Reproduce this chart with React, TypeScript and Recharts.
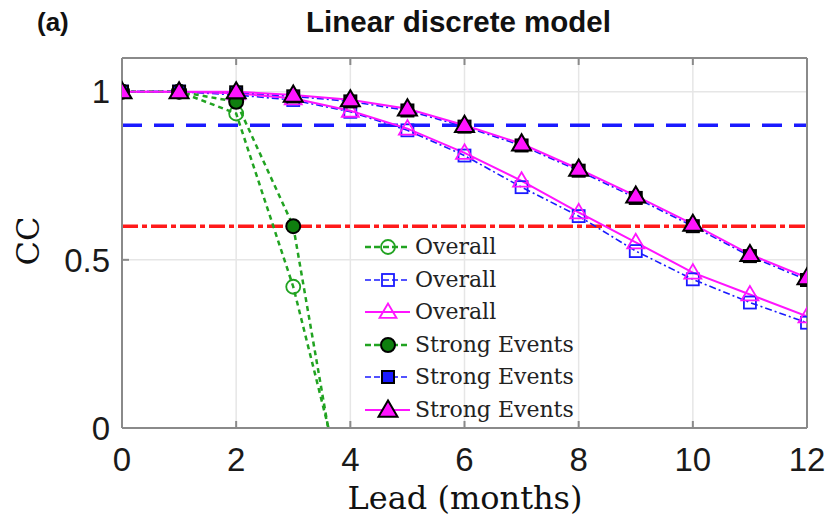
import React from 'react';
import { LineChart, Line, XAxis, YAxis, CartesianGrid, ReferenceLine, Legend } from 'recharts';

const leads = [0, 1, 2, 3, 4, 5, 6, 7, 8, 9, 10, 11, 12];
const greenOverall = [1, 1, 0.935, 0.42, -0.26, null, null, null, null, null, null, null, null];
const blueOverall = [1, 1, 0.99, 0.975, 0.94, 0.885, 0.81, 0.716, 0.63, 0.526, 0.442, 0.373, 0.313];
const magentaOverall = [1, 1, 0.995, 0.98, 0.943, 0.89, 0.818, 0.735, 0.641, 0.552, 0.462, 0.397, 0.332];
const greenStrong = [1, 1, 0.97, 0.6, -0.38, null, null, null, null, null, null, null, null];
const blueStrong = [1, 1, 0.998, 0.986, 0.971, 0.944, 0.896, 0.84, 0.765, 0.684, 0.6, 0.511, 0.44];
const magentaStrong = [1, 1, 1, 0.99, 0.976, 0.949, 0.9, 0.845, 0.77, 0.69, 0.606, 0.516, 0.447];

const xTicks = [0, 2, 4, 6, 8, 10, 12];
const yTicks = [0, 0.5, 1];
const thresholdHigh = 0.9;
const thresholdLow = 0.6;

const title = 'Linear discrete model';
const panelLabel = '(a)';
const xLabel = 'Lead (months)';
const yLabel = 'CC';

const GREEN = '#21a321';
const GREEN_FILL = '#0f7f0f';
const BLUE = '#1a1aff';
const MAGENTA = '#ff14ff';

type SeriesCfg = {
  key: string;
  name: string;
  color: string;
  fill: string;
  dash?: string;
  width: number;
  shape: 'circle' | 'square' | 'triangle';
  filled: boolean;
  values: (number | null)[];
};

const series: SeriesCfg[] = [
  { key: 'go', name: 'Overall', color: GREEN, fill: GREEN_FILL, dash: '5 4', width: 2.5, shape: 'circle', filled: false, values: greenOverall },
  { key: 'bo', name: 'Overall', color: BLUE, fill: BLUE, dash: '7 3 2 3', width: 1.6, shape: 'square', filled: false, values: blueOverall },
  { key: 'mo', name: 'Overall', color: MAGENTA, fill: MAGENTA, width: 2, shape: 'triangle', filled: false, values: magentaOverall },
  { key: 'gs', name: 'Strong Events', color: GREEN, fill: GREEN_FILL, dash: '5 4', width: 2.5, shape: 'circle', filled: true, values: greenStrong },
  { key: 'bs', name: 'Strong Events', color: BLUE, fill: BLUE, dash: '7 3 2 3', width: 1.6, shape: 'square', filled: true, values: blueStrong },
  { key: 'ms', name: 'Strong Events', color: MAGENTA, fill: MAGENTA, width: 2, shape: 'triangle', filled: true, values: magentaStrong },
];

const data = leads.map((lead, i) => {
  const row: Record<string, number | null> = { lead };
  series.forEach((s) => {
    row[s.key] = s.values[i];
  });
  return row;
});

function Marker({ cx, cy, s }: { cx: number; cy: number; s: SeriesCfg }) {
  const fill = s.filled ? s.fill : 'none';
  const stroke = s.filled ? '#000' : s.color;
  const sw = s.filled ? 2 : 1.8;
  if (s.shape === 'circle') {
    return <circle cx={cx} cy={cy} r={7} fill={fill} stroke={stroke} strokeWidth={sw} />;
  }
  if (s.shape === 'square') {
    return <rect x={cx - 6} y={cy - 6} width={12} height={12} fill={fill} stroke={stroke} strokeWidth={sw} />;
  }
  const h = s.filled ? 9.5 : 8.5;
  return (
    <polygon
      points={`${cx},${cy - h} ${cx - h},${cy + h * 0.7} ${cx + h},${cy + h * 0.7}`}
      fill={fill}
      stroke={stroke}
      strokeWidth={sw}
      strokeLinejoin="miter"
    />
  );
}

function makeDot(s: SeriesCfg) {
  return (p: any) => {
    const k = `${s.key}-${p.index}`;
    if (p.value == null || p.cy == null || p.cx == null || isNaN(p.cy)) return <g key={k} />;
    return (
      <g key={k}>
        <Marker cx={p.cx} cy={p.cy} s={s} />
      </g>
    );
  };
}

function LegendContent() {
  return (
    <div style={{ fontFamily: '"DejaVu Serif", serif', fontSize: 22, color: '#222', lineHeight: '32.5px' }}>
      {series.map((s) => (
        <div key={s.key} style={{ display: 'flex', alignItems: 'center', height: 32.5 }}>
          <svg width={50} height={24} style={{ display: 'block' }}>
            <line x1={3} y1={12} x2={48} y2={12} stroke={s.color} strokeWidth={s.width} strokeDasharray={s.dash ? '6 3' : undefined} />
            <Marker cx={26} cy={12} s={s} />
          </svg>
          <span style={{ marginLeft: 3, whiteSpace: 'nowrap' }}>{s.name}</span>
        </div>
      ))}
    </div>
  );
}

const AXIS = '#8a8a8a';
const tickStyle = { fontFamily: '"Liberation Sans", Arial, sans-serif', fontSize: 33, fill: '#1a1a1a' };

export default function App() {
  return (
    <div style={{ position: 'absolute', left: 0, top: 0, width: 829, height: 525, background: '#fff' }}>
      <LineChart width={829} height={525} data={data} margin={{ top: 56, right: 20, left: 62, bottom: 37 }}>
        <CartesianGrid stroke="#e6e6e6" strokeWidth={1.5} horizontalValues={yTicks} verticalValues={xTicks} />
        <XAxis
          dataKey="lead"
          type="number"
          domain={[0, 12]}
          ticks={xTicks}
          allowDataOverflow
          stroke={AXIS}
          strokeWidth={2}
          tickSize={-7}
          tickMargin={27}
          height={60}
          tick={tickStyle}
          interval={0}
        />
        <XAxis
          xAxisId="top"
          orientation="top"
          dataKey="lead"
          type="number"
          domain={[0, 12]}
          ticks={xTicks}
          stroke={AXIS}
          strokeWidth={2}
          tickSize={-7}
          height={2}
          tickFormatter={() => ''}
          interval={0}
        />
        <YAxis
          type="number"
          domain={[0, 1.1]}
          ticks={yTicks}
          allowDataOverflow
          stroke={AXIS}
          strokeWidth={2}
          tickSize={-7}
          tickMargin={19}
          width={60}
          tick={tickStyle}
          interval={0}
        />
        <YAxis
          yAxisId="right"
          orientation="right"
          type="number"
          domain={[0, 1.1]}
          ticks={yTicks}
          stroke={AXIS}
          strokeWidth={2}
          tickSize={-7}
          width={2}
          tickFormatter={() => ''}
          interval={0}
        />
        <ReferenceLine y={thresholdHigh} stroke="#1a1aff" strokeWidth={3.5} strokeDasharray="20 12" />
        <ReferenceLine y={thresholdLow} stroke="#ff1a1a" strokeWidth={3.5} strokeDasharray="16 4 5 4" />
        {series.map((s) => (
          <Line
            key={s.key}
            dataKey={s.key}
            name={s.name}
            type="linear"
            stroke={s.color}
            strokeWidth={s.width}
            strokeDasharray={s.dash}
            dot={makeDot(s)}
            activeDot={false}
            isAnimationActive={false}
            connectNulls={false}
          />
        ))}
        <Legend
          layout="horizontal"
          align="center"
          verticalAlign="middle"
          wrapperStyle={{ left: 362, top: 231, width: 240 }}
          content={() => <LegendContent />}
        />
      </LineChart>
      <div
        style={{
          position: 'absolute',
          left: 0,
          width: 917,
          top: 6,
          textAlign: 'center',
          fontFamily: '"Liberation Sans", Arial, sans-serif',
          fontWeight: 'bold',
          fontSize: 29.5,
          color: '#111',
          lineHeight: '32px',
        }}
      >
        {title}
      </div>
      <div
        style={{
          position: 'absolute',
          left: 37,
          top: 6,
          fontFamily: '"Liberation Sans", Arial, sans-serif',
          fontWeight: 'bold',
          fontSize: 26,
          color: '#111',
          lineHeight: '32px',
        }}
      >
        {panelLabel}
      </div>
      <div
        style={{
          position: 'absolute',
          left: 0,
          width: 930,
          top: 478,
          textAlign: 'center',
          fontFamily: '"DejaVu Serif", serif',
          fontSize: 32,
          color: '#111',
          lineHeight: '40px',
        }}
      >
        {xLabel}
      </div>
      <div
        style={{
          position: 'absolute',
          left: 28,
          top: 241,
          transform: 'translate(-50%, -50%) rotate(-90deg)',
          fontFamily: '"DejaVu Serif", serif',
          fontSize: 32,
          color: '#111',
          lineHeight: '40px',
          whiteSpace: 'nowrap',
        }}
      >
        {yLabel}
      </div>
    </div>
  );
}
